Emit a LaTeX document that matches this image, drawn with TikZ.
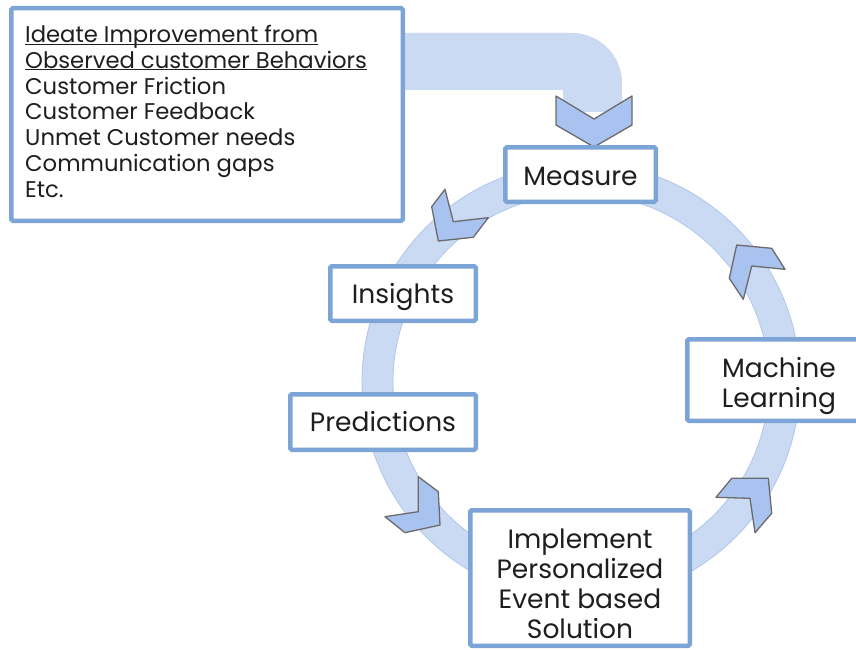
\documentclass[tikz,border=0pt]{standalone}
\usepackage{fontspec}
\setmainfont{Poppins}
\definecolor{boxblue}{HTML}{7DA4D6}
\definecolor{ringfill}{HTML}{CBDAF3}
\definecolor{ringedge}{HTML}{AEC6EE}
\definecolor{chevfill}{HTML}{A9C3F0}
\definecolor{chevedge}{HTML}{6B6B6B}
\definecolor{inktext}{HTML}{1E1E1E}
% underline at a fixed depth, ignoring descenders
\newcommand{\headline}[1]{\underline{\smash{#1}}}
\tikzset{
  stagebox/.style={draw=boxblue, line width=4.5pt, rounded corners=1.5pt, fill=white,
    inner sep=0pt},
  stagetext/.style={align=center, text=inktext, inner sep=0pt,
    font=\fontsize{26.5}{30}\selectfont},
  listline/.style={anchor=base west, text=inktext, inner sep=0pt,
    font=\fontsize{22.7}{25.8}\selectfont},
  chevron/.style={fill=chevfill, draw=chevedge, line width=1.3pt, line join=round},
}
\begin{document}
\begin{tikzpicture}[x=1pt, y=-1pt]
\useasboundingbox (0,0) rectangle (856,650);
\clip (0,0) rectangle (856,650);

% feed-in ribbon from the ideation box down to Measure
\fill[ringfill] (398,33) -- (572,33) arc[start angle=-90, end angle=0, radius=50]
  -- (622,112) -- (563,112) -- (563,90) -- (398,90) -- cycle;

% ideation box
\node[stagebox, minimum width=391.5pt, minimum height=212.5pt] (ideate) at (207,114.5) {};
\node[listline] (l1) at (25,42.5) {\headline{Ideate Improvement from}};
\node[listline] (l2) at (25,68.3) {\headline{Observed customer Behaviors}};
\node[listline] (l3) at (25,94.1) {Customer Friction};
\node[listline] (l4) at (25,119.9) {Customer Feedback};
\node[listline] (l5) at (25,145.7) {Unmet Customer needs};
\node[listline] (l6) at (25,171.5) {Communication gaps};
\node[listline] (l7) at (25,197.3) {Etc.};

% cycle ring
\fill[ringfill, even odd rule, draw=ringedge, line width=0.8pt]
  (581,382) circle[radius=219] (581,382) circle[radius=188];

% chevrons along the cycle
\draw[chevron] (556,96) -- (594,119) -- (632,96) -- (632,125) -- (594,147) -- (556,125) -- cycle;
\draw[chevron] (445,189.3) -- (431.7,206.7) -- (438.3,241) -- (473.3,237.3) -- (488.3,217.7) -- (453.3,221.7) -- cycle;
\draw[chevron] (418.3,476.7) -- (438.3,491.7) -- (440,525) -- (405,532.7) -- (385,516.7) -- (418.3,511.7) -- cycle;
\draw[chevron] (731.7,478.3) -- (768.3,478.3) -- (771.7,513.3) -- (755,532.7) -- (750,498.3) -- (716,497.3) -- cycle;
\draw[chevron] (736.7,245) -- (771.7,248.3) -- (785,269.3) -- (751.7,266) -- (743.3,299.3) -- (729.3,278.3) -- cycle;

% stages
\node[stagebox, minimum width=150.5pt, minimum height=54.5pt] (measure) at (580.5,174.5) {};
\node[stagebox, minimum width=145.5pt, minimum height=54.5pt] (insights) at (403,293.5) {};
\node[stagebox, minimum width=185.5pt, minimum height=55.5pt] (predictions) at (383,422) {};
\node[stagebox, minimum width=183.5pt, minimum height=81.5pt] (ml) at (779,380) {};
\node[stagebox, minimum width=219.5pt, minimum height=135.5pt] (implement) at (580,578) {};

\node[stagetext] (measure-t) at ([yshift=-2pt]measure.center) {Measure};
\node[stagetext] (insights-t) at ([yshift=-3pt]insights.center) {Insights};
\node[stagetext] (predictions-t) at (predictions.center) {Predictions};
\node[stagetext] (ml-t) at ([yshift=-6pt]ml.center) {Machine\\Learning};
\node[stagetext] (implement-t) at ([yshift=-6pt]implement.center)
  {Implement\\Personalized\\Event based\\Solution};
\end{tikzpicture}
\end{document}
